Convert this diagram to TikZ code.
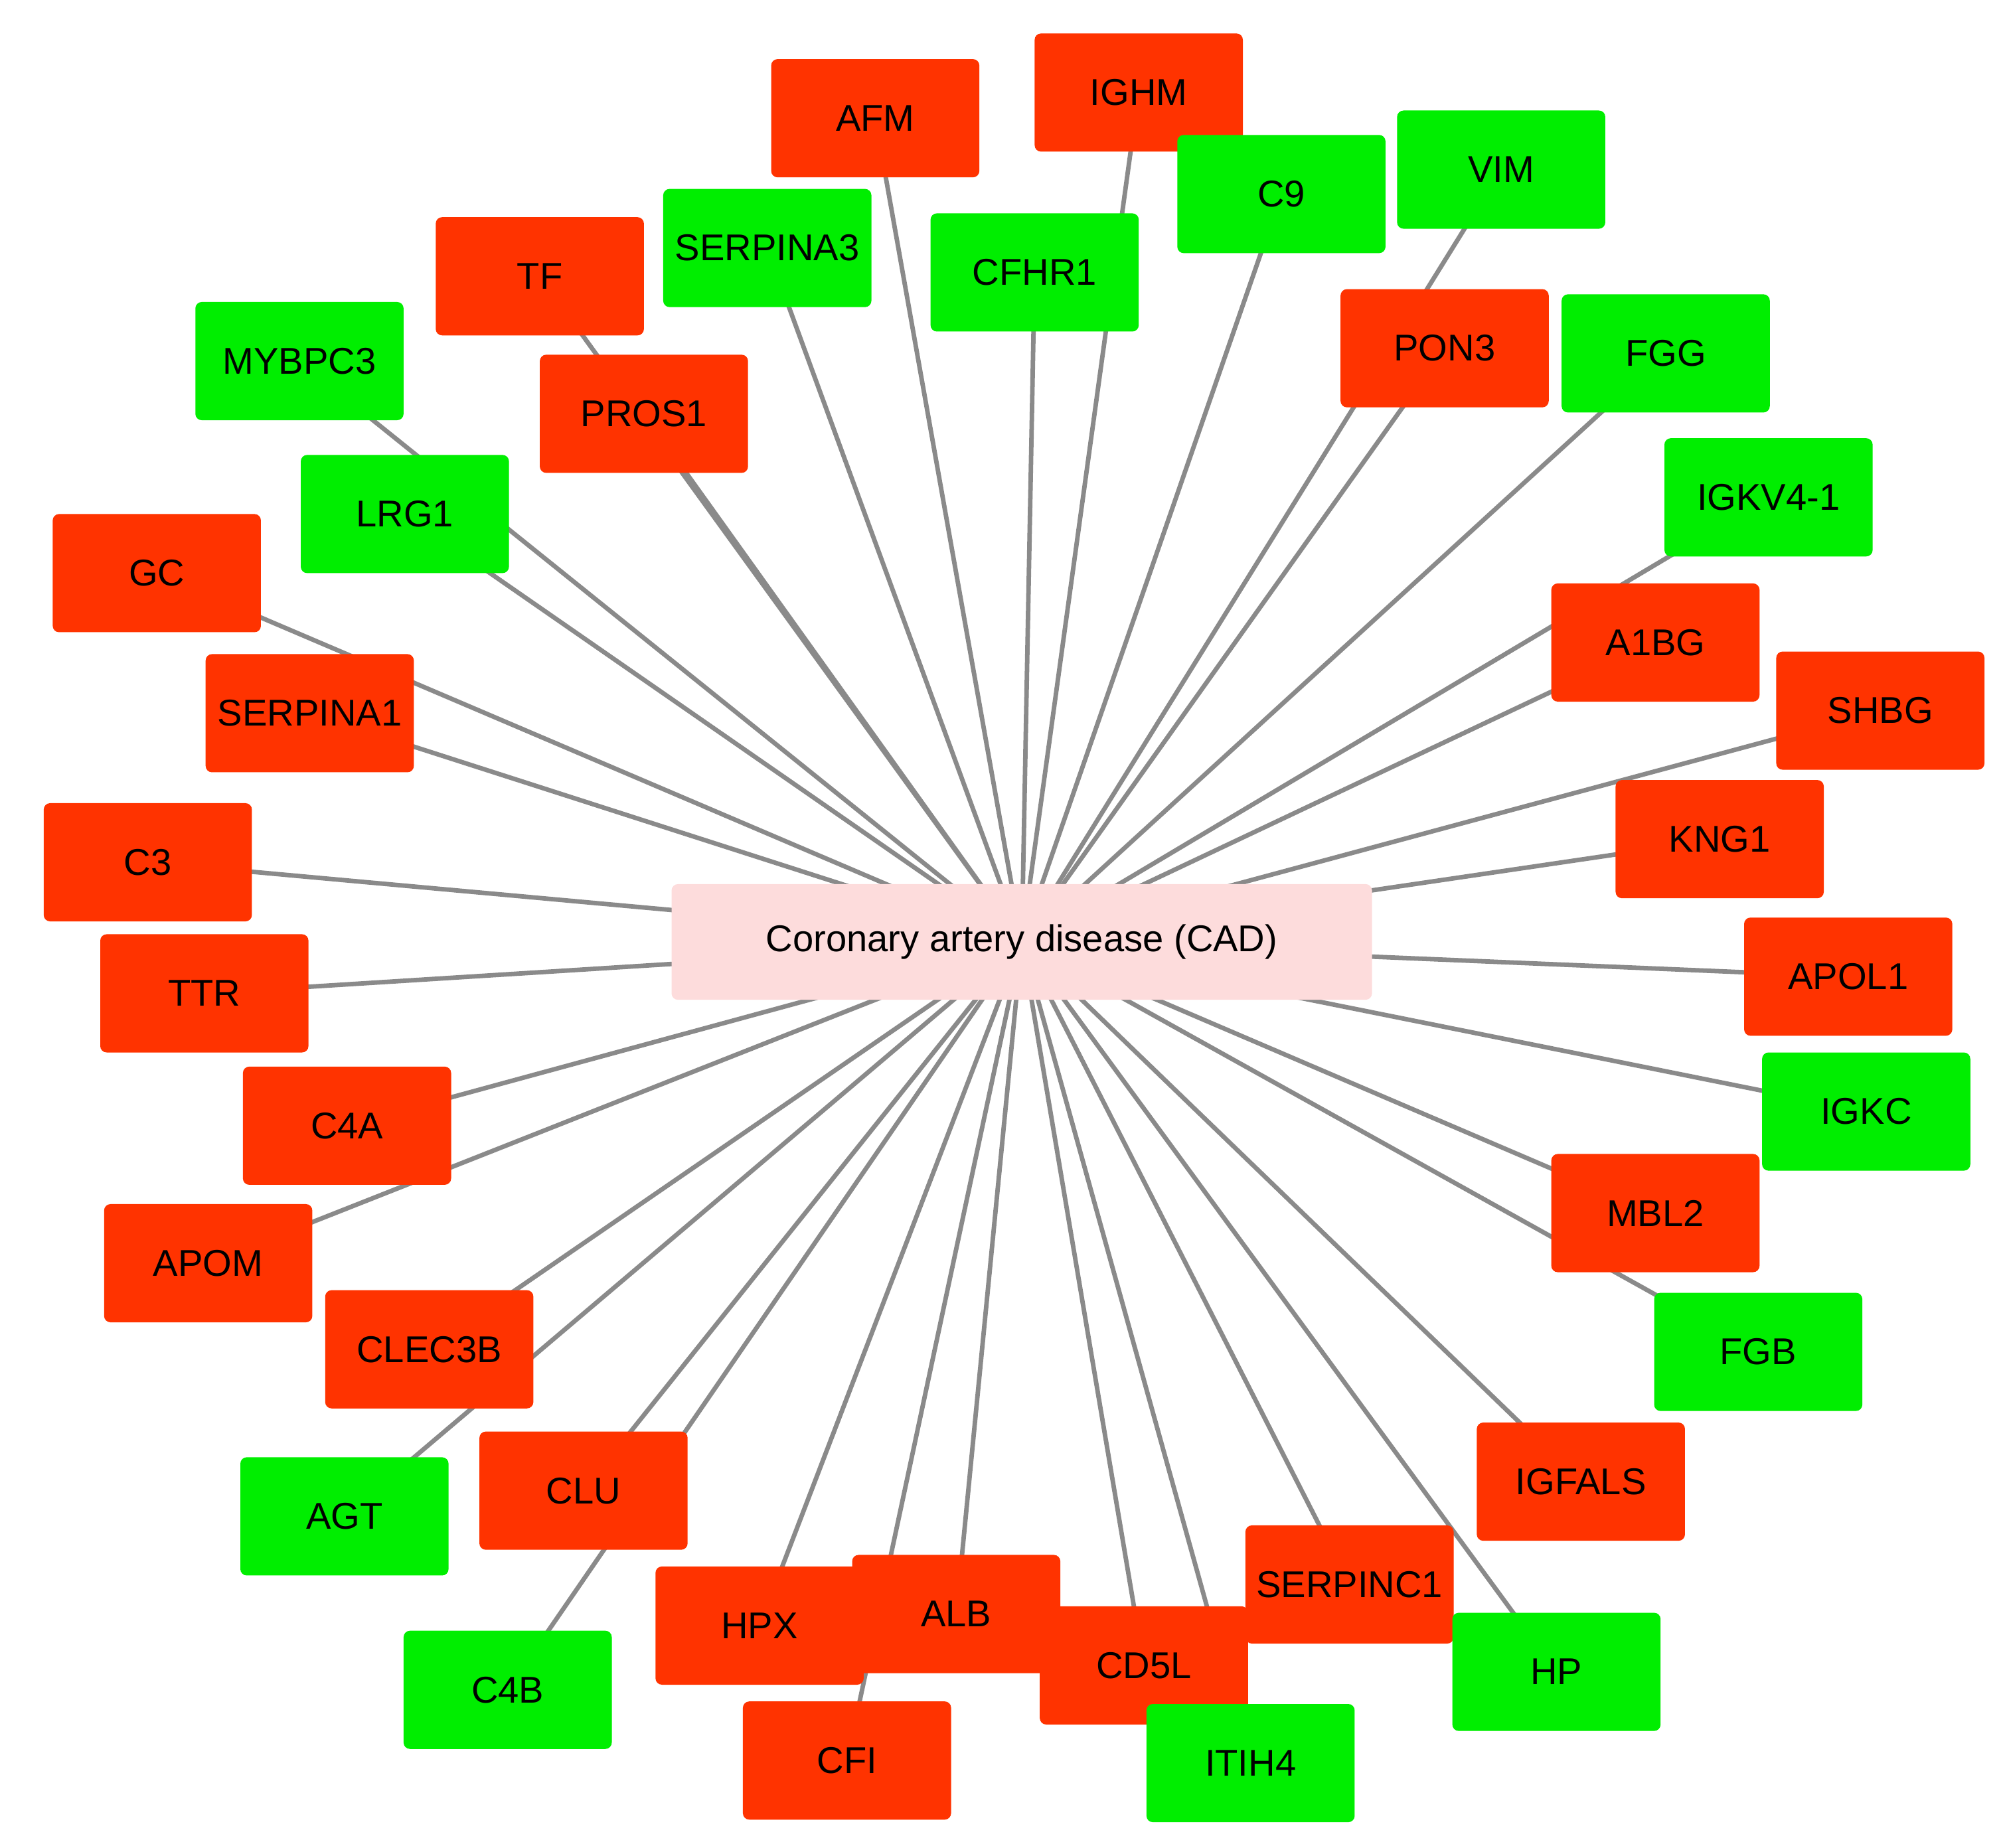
\documentclass[tikz,border=0pt]{standalone}
\usepackage{fontspec}
\setmainfont{Liberation Sans}
\definecolor{gred}{HTML}{FF3300}
\definecolor{ggreen}{HTML}{00EE00}
\definecolor{cpink}{HTML}{FDDCDC}
\definecolor{edgegray}{HTML}{8A8A8A}
\begin{document}
\begin{tikzpicture}[x=1pt,y=-1pt,
  gbox/.style={rectangle,rounded corners=5pt,minimum width=162pt,minimum height=92pt,inner sep=0pt,font=\fontsize{29}{32}\selectfont},
  rbox/.style={gbox,fill=gred},
  grbox/.style={gbox,fill=ggreen},
  edge/.style={draw=edgegray,line width=3.5pt}]
\useasboundingbox (0,0) rectangle (1560,1438);
\fill[white] (0,0) rectangle (1560,1438);
\coordinate (c) at (795,733);
\foreach \n/\x/\y in {AFM/681/92,IGHM/886/72,C9/997/151,VIM/1168/132,SERPINA3/597/193,CFHR1/805/212,TF/420/215,MYBPC3/233/281,PON3/1124/271,FGG/1296/275,PROS1/501/322,LRG1/315/400,IGKV4-1/1376/387,GC/122/446,A1BG/1288/500,SERPINA1/241/555,SHBG/1463/553,C3/115/671,KNG1/1338/653,TTR/159/773,APOL1/1438/760,C4A/270/876,IGKC/1452/865,MBL2/1288/944,APOM/162/983,CLEC3B/334/1050,FGB/1368/1052,CLU/454/1160,IGFALS/1230/1153,AGT/268/1180,SERPINC1/1050/1233,HPX/591/1265,ALB/744/1256,CD5L/890/1296,HP/1211/1301,C4B/395/1315,CFI/659/1370,ITIH4/973/1372}
  {\coordinate (p\n) at (\x,\y); \draw[edge] (c) -- (p\n);}
\foreach \n in {AFM,IGHM,TF,PON3,PROS1,GC,A1BG,SERPINA1,SHBG,C3,KNG1,TTR,APOL1,C4A,MBL2,APOM,CLEC3B,CLU,IGFALS,SERPINC1,HPX,ALB,CD5L,CFI}
  {\node[rbox] (n\n) at (p\n) {\n};}
\foreach \n in {C9,VIM,SERPINA3,CFHR1,MYBPC3,FGG,LRG1,IGKV4-1,IGKC,FGB,AGT,HP,C4B,ITIH4}
  {\node[grbox] (n\n) at (p\n) {\n};}
\node[rectangle,rounded corners=5pt,fill=cpink,minimum width=545pt,minimum height=90pt,font=\fontsize{29}{32}\selectfont] (cad) at (c) {Coronary artery disease (CAD)};
\end{tikzpicture}
\end{document}
